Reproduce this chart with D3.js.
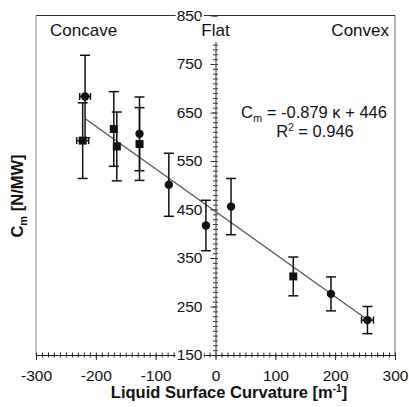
<!DOCTYPE html>
<html><head><meta charset="utf-8">
<script src="https://cdn.jsdelivr.net/npm/d3@7/dist/d3.min.js"></script>
<style>
body{margin:0;background:#fff;}
svg{display:block;font-family:"Liberation Sans",Arial,Helvetica,sans-serif;}
</style></head><body>
<svg id="c" width="409" height="407"></svg>
<script>
// ---- data ----
const xTicks = [-300, -200, -100, 0, 100, 200, 300];
const yTicks = [150, 250, 350, 450, 550, 650, 750, 850];
// circles: [curvature, Cm, yErr, xErr]
const circleX = [-218, -127, -78, -16, 26, 193, 254];
const circleY = [683, 606, 501, 417, 456, 276, 222];
const circleYErr = [85, 76, 65, 52, 58, 35, 28];
const circleXErr = [9, 0, 0, 0, 0, 0, 10];
// squares
const squareX = [-222, -170, -165, -127, 130];
const squareY = [592, 616, 580, 585, 312];
const squareYErr = [78, 77, 71, 75, 40];
const squareXErr = [10, 0, 5, 0, 0];
const fitSlope = -0.879, fitIntercept = 446;
const fitRange = [-217, 254];

const svg = d3.select("#c");
const x = d3.scaleLinear().domain([-300, 300]).range([36, 395]);
const y = d3.scaleLinear().domain([150, 850]).range([355, 15.5]);
const fmt = d => String(d);

// frame
const fr = svg.append("g").attr("stroke", "#666").attr("stroke-width", 1).attr("fill", "none");
fr.append("line").attr("x1", x(-300)).attr("x2", x(-300)).attr("y1", y(850)).attr("y2", y(150)).attr("stroke","#888");
fr.append("line").attr("x1", x(300)).attr("x2", x(300)).attr("y1", y(850)).attr("y2", y(150));
fr.append("line").attr("x1", x(-300)).attr("x2", x(300)).attr("y1", y(850)).attr("y2", y(850)).attr("stroke","#333");

// x axis
const minorX = d3.range(-300, 301, 10);
const minorY = d3.range(150, 851, 10);
const gx = svg.append("g").attr("transform", `translate(0,${y(150)})`);
gx.append("g").call(d3.axisBottom(x).tickValues(minorX).tickSize(2.5).tickFormat("")).call(g=>g.select(".domain").remove());
gx.append("g").call(d3.axisTop(x).tickValues(minorX).tickSize(2.5).tickFormat("")).call(g=>g.select(".domain").remove());
gx.append("g").call(d3.axisBottom(x).tickValues(xTicks).tickSize(5).tickSizeOuter(0).tickPadding(10).tickFormat(fmt))
  .call(g=>g.selectAll("text").attr("font-size", 15.5).attr("fill","#111").attr("font-family",'"Liberation Sans",Arial,sans-serif'));
gx.selectAll("line,path").attr("stroke", "#222");

// y axis at x=0
const gy = svg.append("g").attr("transform", `translate(${x(0)},0)`);
gy.append("g").call(d3.axisLeft(y).tickValues(minorY).tickSize(2.5).tickFormat("")).call(g=>g.select(".domain").remove());
gy.append("g").call(d3.axisRight(y).tickValues(minorY).tickSize(2.5).tickFormat("")).call(g=>g.select(".domain").remove());
const gyl = gy.append("g").call(d3.axisLeft(y).tickValues(yTicks).tickSize(5).tickSizeOuter(0).tickPadding(8).tickFormat(fmt));
gyl.selectAll("text").attr("font-size", 15.5).attr("fill","#111").attr("font-family",'"Liberation Sans",Arial,sans-serif');
gy.selectAll("line,path").attr("stroke", "#333");
// white backing for the labels sitting on the frame
gyl.selectAll(".tick").filter(d => d === 850 || d === 150).each(function(){
  const t = d3.select(this).select("text");
  const b = t.node().getBBox();
  d3.select(this).insert("rect", "text").attr("x", b.x - 1).attr("y", b.y + 2).attr("width", b.width + 2).attr("height", b.height - 4).attr("fill", "#fff");
});

// region labels
const lab = svg.append("g").attr("font-size", 17).attr("fill", "#111");
const flat = lab.append("text").attr("x", x(0)).attr("y", 36).attr("text-anchor", "middle").text("Flat");
const fb = flat.node().getBBox();
lab.insert("rect", "text").attr("x", fb.x - 1).attr("y", 17).attr("width", fb.width + 2).attr("height", 25).attr("fill", "#fff");
lab.append("text").attr("x", 50).attr("y", 36).text("Concave");
lab.append("text").attr("x", 389).attr("y", 36).attr("text-anchor", "end").text("Convex");

// fit line
svg.append("line")
  .attr("x1", x(fitRange[0])).attr("y1", y(fitSlope * fitRange[0] + fitIntercept))
  .attr("x2", x(fitRange[1])).attr("y2", y(fitSlope * fitRange[1] + fitIntercept))
  .attr("stroke", "#555").attr("stroke-width", 1.3);

// error bars + markers
function drawSeries(xs, ys, ye, xe, shape) {
  const data = xs.map((v, i) => ({x: v, y: ys[i], ye: ye[i], xe: xe[i]}));
  const g = svg.append("g").attr("stroke", "#111").attr("stroke-width", 1.5);
  data.forEach(d => {
    g.append("line").attr("x1", x(d.x)).attr("x2", x(d.x)).attr("y1", y(d.y + d.ye)).attr("y2", y(d.y - d.ye));
    [d.y + d.ye, d.y - d.ye].forEach(v => g.append("line").attr("x1", x(d.x) - 5).attr("x2", x(d.x) + 5).attr("y1", y(v)).attr("y2", y(v)));
    if (d.xe > 0) {
      g.append("line").attr("x1", x(d.x - d.xe)).attr("x2", x(d.x + d.xe)).attr("y1", y(d.y)).attr("y2", y(d.y));
      [d.x - d.xe, d.x + d.xe].forEach(v => g.append("line").attr("x1", x(v)).attr("x2", x(v)).attr("y1", y(d.y) - 3.5).attr("y2", y(d.y) + 3.5));
    }
  });
  if (shape === "circle") {
    svg.append("g").selectAll("circle").data(data).join("circle")
      .attr("cx", d => x(d.x)).attr("cy", d => y(d.y)).attr("r", 4.2).attr("fill", "#111");
  } else {
    svg.append("g").selectAll("rect").data(data).join("rect")
      .attr("x", d => x(d.x) - 4).attr("y", d => y(d.y) - 4).attr("width", 8).attr("height", 8).attr("fill", "#111");
  }
}
drawSeries(circleX, circleY, circleYErr, circleXErr, "circle");
drawSeries(squareX, squareY, squareYErr, squareXErr, "square");

// equation
const eq = svg.append("g").attr("font-size", 16.5).attr("fill", "#111").attr("text-anchor", "middle");
const t1 = eq.append("text").attr("x", 314).attr("y", 118);
t1.append("tspan").text("C");
t1.append("tspan").attr("font-size", 11).attr("dy", 4).text("m");
t1.append("tspan").attr("dy", -4).text(" = -0.879 κ + 446");
const t2 = eq.append("text").attr("x", 315).attr("y", 137);
t2.append("tspan").text("R");
t2.append("tspan").attr("font-size", 10).attr("dy", -6).text("2");
t2.append("tspan").attr("dy", 6).text(" = 0.946");

// axis titles
const xt = svg.append("text").attr("x", 229).attr("y", 398).attr("text-anchor", "middle")
  .attr("font-size", 16.5).attr("font-weight", "bold").attr("fill", "#111");
xt.append("tspan").text("Liquid Surface Curvature [m");
xt.append("tspan").attr("font-size", 10).attr("dy", -6).text("-1");
xt.append("tspan").attr("dy", 6).text("]");

const yt = svg.append("text").attr("transform", "translate(23,196) rotate(-90)").attr("text-anchor", "middle")
  .attr("font-size", 16.5).attr("font-weight", "bold").attr("fill", "#111");
yt.append("tspan").text("C");
yt.append("tspan").attr("font-size", 11).attr("dy", 4).text("m");
yt.append("tspan").attr("dy", -4).text(" [N/MW]");
</script>
</body></html>
